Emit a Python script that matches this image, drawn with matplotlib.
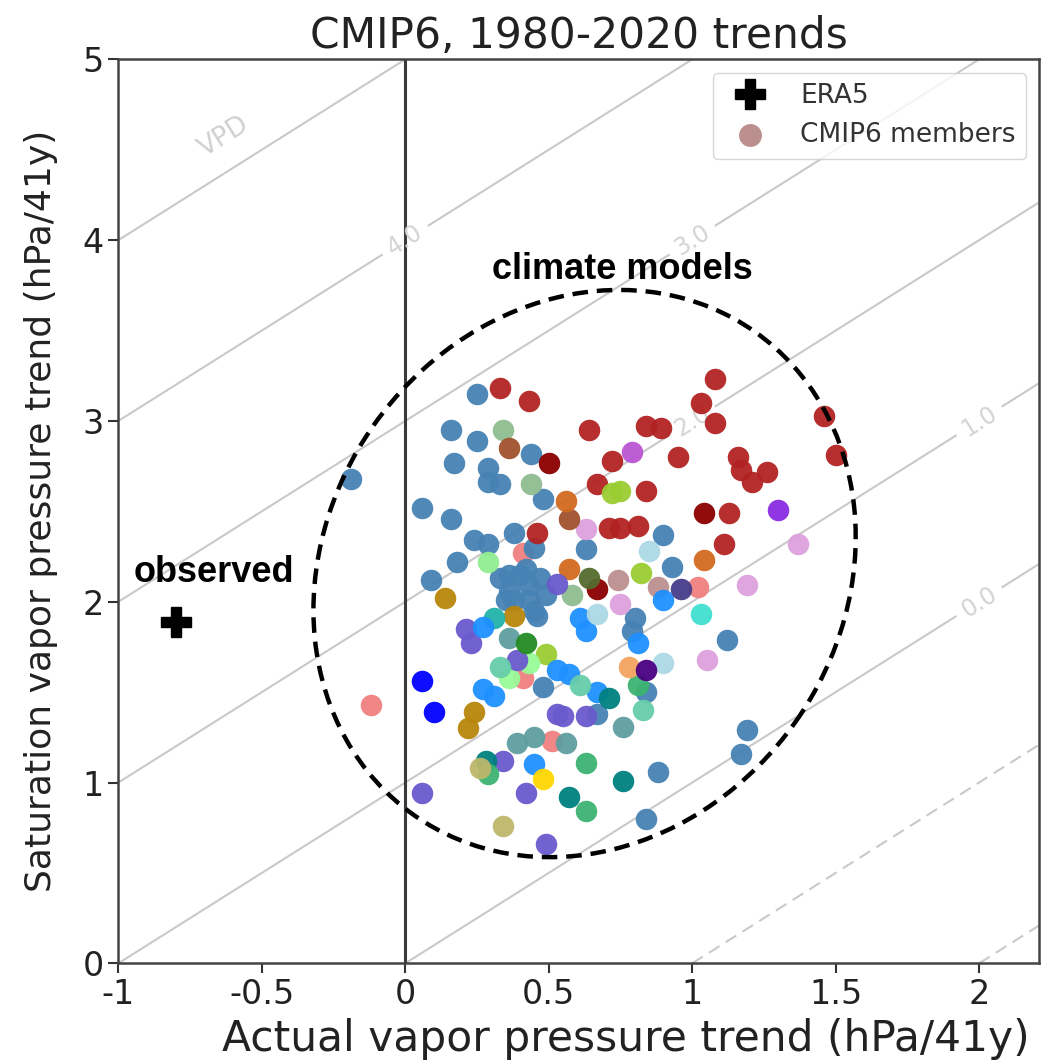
import matplotlib
import numpy as np

matplotlib.use("Agg")
import matplotlib.pyplot as plt
from matplotlib.patches import Ellipse
from matplotlib.transforms import Affine2D

# observed trend (ERA5)
era5_x = [-0.80]
era5_y = [1.89]

# CMIP6 members, grouped by the colour used for each model
lightcoral_x = [-0.12, 0.41, 0.51, 1.02, 0.41]
lightcoral_y = [1.43, 2.27, 1.23, 2.08, 1.58]
steelblue_x = [-0.19, 0.25, 0.16, 0.25, 0.44, 0.17, 0.29, 0.29, 0.33, 0.48, 0.06,
               0.16, 0.38, 0.24, 0.29, 0.45, 0.18, 0.09, 0.33, 0.36, 0.40, 0.43,
               0.47, 0.38, 0.43, 0.49, 0.35, 0.42, 0.45, 0.36, 0.46, 0.63, 0.90,
               0.93, 0.80, 0.79, 0.84, 0.67, 0.48, 1.12, 1.19, 1.17, 0.88, 0.84]
steelblue_y = [2.68, 3.15, 2.95, 2.89, 2.82, 2.77, 2.74, 2.66, 2.65, 2.57, 2.52,
               2.46, 2.38, 2.34, 2.32, 2.30, 2.22, 2.12, 2.13, 2.06, 2.15, 2.09,
               2.13, 2.01, 2.01, 2.04, 2.01, 2.18, 1.95, 2.15, 1.92, 2.29, 2.37,
               2.19, 1.91, 1.84, 1.50, 1.38, 1.53, 1.79, 1.29, 1.16, 1.06, 0.80]
firebrick_x = [0.33, 0.43, 0.46, 0.64, 0.72, 0.67, 0.71, 0.75, 0.81, 0.84, 0.89, 0.95,
               0.84, 1.08, 1.03, 1.08, 1.46, 1.50, 1.16, 1.17, 1.21, 1.26, 1.13, 1.11]
firebrick_y = [3.18, 3.11, 2.38, 2.95, 2.78, 2.65, 2.41, 2.41, 2.42, 2.97, 2.96, 2.80,
               2.61, 3.23, 3.10, 2.99, 3.03, 2.81, 2.80, 2.73, 2.66, 2.72, 2.49, 2.32]
darkred_x = [0.50, 1.04, 0.67]
darkred_y = [2.77, 2.49, 2.07]
orchid_x = [0.79]
orchid_y = [2.83]
blueviolet_x = [1.30]
blueviolet_y = [2.51]
plum_x = [0.63, 1.37, 1.19, 0.75, 1.05]
plum_y = [2.40, 2.32, 2.09, 1.99, 1.68]
yellowgreen_x = [0.72, 0.75, 0.82, 0.49]
yellowgreen_y = [2.60, 2.61, 2.16, 1.71]
palegreen_x = [0.36, 0.43]
palegreen_y = [1.58, 1.66]
seagreen_x = [0.34, 0.44, 0.58]
seagreen_y = [2.95, 2.65, 2.04]
sienna_x = [0.36, 0.57]
sienna_y = [2.85, 2.46]
chocolate_x = [0.56, 1.04, 0.57]
chocolate_y = [2.56, 2.23, 2.18]
goldenrod_x = [0.14, 0.38, 0.24, 0.22]
goldenrod_y = [2.02, 1.92, 1.39, 1.30]
lightgreen_x = [0.29]
lightgreen_y = [2.22]
slateblue_x = [0.53, 0.21, 0.23, 0.39, 0.53, 0.55, 0.63, 0.34, 0.06, 0.42, 0.49]
slateblue_y = [2.10, 1.85, 1.77, 1.68, 1.38, 1.37, 1.37, 1.12, 0.94, 0.94, 0.66]
olive_x = [0.64]
olive_y = [2.13]
rosybrown_x = [0.74, 0.88]
rosybrown_y = [2.12, 2.08]
lightseagreen_x = [0.31]
lightseagreen_y = [1.91]
dodgerblue_x = [0.61, 0.27, 0.53, 0.27, 0.31, 0.45, 0.90, 0.81, 0.63, 0.57, 0.67]
dodgerblue_y = [1.91, 1.86, 1.62, 1.52, 1.48, 1.10, 2.01, 1.77, 1.84, 1.60, 1.50]
lightblue_x = [0.67, 0.85, 0.90]
lightblue_y = [1.93, 2.28, 1.66]
cadetblue_x = [0.36, 0.39, 0.45, 0.56, 0.76]
cadetblue_y = [1.80, 1.22, 1.25, 1.22, 1.31]
forestgreen_x = [0.42]
forestgreen_y = [1.77]
aquamarine_x = [0.33, 0.61, 0.83]
aquamarine_y = [1.64, 1.54, 1.40]
blue_x = [0.06, 0.10]
blue_y = [1.56, 1.39]
teal_x = [0.28, 0.57, 0.76, 0.71]
teal_y = [1.12, 0.92, 1.01, 1.47]
medseagreen_x = [0.29, 0.63, 0.63, 0.81]
medseagreen_y = [1.05, 0.84, 1.11, 1.54]
darkkhaki_x = [0.34, 0.26]
darkkhaki_y = [0.76, 1.08]
gold_x = [0.48]
gold_y = [1.02]
darkslateblue_x = [0.96]
darkslateblue_y = [2.07]
turquoise_x = [1.03]
turquoise_y = [1.93]
sandybrown_x = [0.78]
sandybrown_y = [1.64]
indigo_x = [0.84]
indigo_y = [1.62]

members = [
    ("lightcoral", lightcoral_x, lightcoral_y),
    ("steelblue", steelblue_x, steelblue_y),
    ("firebrick", firebrick_x, firebrick_y),
    ("darkred", darkred_x, darkred_y),
    ("mediumorchid", orchid_x, orchid_y),
    ("blueviolet", blueviolet_x, blueviolet_y),
    ("plum", plum_x, plum_y),
    ("yellowgreen", yellowgreen_x, yellowgreen_y),
    ("palegreen", palegreen_x, palegreen_y),
    ("darkseagreen", seagreen_x, seagreen_y),
    ("sienna", sienna_x, sienna_y),
    ("chocolate", chocolate_x, chocolate_y),
    ("darkgoldenrod", goldenrod_x, goldenrod_y),
    ("lightgreen", lightgreen_x, lightgreen_y),
    ("slateblue", slateblue_x, slateblue_y),
    ("darkolivegreen", olive_x, olive_y),
    ("rosybrown", rosybrown_x, rosybrown_y),
    ("lightseagreen", lightseagreen_x, lightseagreen_y),
    ("dodgerblue", dodgerblue_x, dodgerblue_y),
    ("lightblue", lightblue_x, lightblue_y),
    ("cadetblue", cadetblue_x, cadetblue_y),
    ("forestgreen", forestgreen_x, forestgreen_y),
    ("mediumaquamarine", aquamarine_x, aquamarine_y),
    ("blue", blue_x, blue_y),
    ("teal", teal_x, teal_y),
    ("mediumseagreen", medseagreen_x, medseagreen_y),
    ("darkkhaki", darkkhaki_x, darkkhaki_y),
    ("gold", gold_x, gold_y),
    ("darkslateblue", darkslateblue_x, darkslateblue_y),
    ("turquoise", turquoise_x, turquoise_y),
    ("sandybrown", sandybrown_x, sandybrown_y),
    ("indigo", indigo_x, indigo_y),
]

vpd_levels = [-2, -1, 0, 1, 2, 3, 4, 5]
# where the isolines carry a label
vpd_label_at = [(2.0, 2.0), (2.0, 3.0), (1.0, 3.0), (1.0, 4.0), (0.0, 4.0)]

x_ticks = [-1, -0.5, 0, 0.5, 1, 1.5, 2]
x_tick_labels = ["-1", "-0.5", "0", "0.5", "1", "1.5", "2"]
y_ticks = [0, 1, 2, 3, 4, 5]

fig = plt.figure(figsize=(10.51, 10.64), dpi=100)
ax = fig.add_axes([0.1126, 0.0946, 0.8763, 0.8496])
ax.set_xlim(-1, 2.21)
ax.set_ylim(0, 5)

# VPD isolines: VPD = saturation - actual
gx, gy = np.meshgrid(np.linspace(-1, 2.21, 300), np.linspace(0, 5, 300))
styles = [(0, (6, 3.5)) if lv < 0 else "solid" for lv in vpd_levels]
cs = ax.contour(gx, gy, gy - gx, levels=vpd_levels, colors="#c9c9c9",
                linewidths=1.5, linestyles=styles, zorder=0)
ax.clabel(cs, fmt="%.1f", fontsize=17, colors="#d4d4d4",
          inline=True, inline_spacing=8, manual=vpd_label_at)
ax.text(-0.63, 4.57, "VPD", rotation=32, color="#d0d0d0", fontsize=19,
        ha="center", va="center")

ax.axvline(0, color="#3a3a3a", linewidth=2.2, zorder=1)

for color, xs, ys in members:
    ax.scatter(xs, ys, s=240, color=color, alpha=0.95, linewidths=0, zorder=3)

ax.plot(era5_x, era5_y, "P", color="black", markersize=21, zorder=6, label="ERA5")
ax.scatter([], [], s=240, color="rosybrown", label="CMIP6 members")

# hand-drawn style highlight of the model spread
ring = Ellipse((0, 0), width=2 * 296, height=2 * 258, angle=54.8, fill=False,
               edgecolor="black", linewidth=3.2, linestyle=(0, (3.5, 2)),
               transform=Affine2D().scale(1 / 287, 1 / 181).translate(0.625, 2.156) + ax.transData,
               zorder=5)
ax.add_patch(ring)

ax.text(-0.667, 2.16, "observed", fontsize=26, fontweight="bold",
        family="Liberation Sans", ha="center", va="center")
ax.text(0.758, 3.84, "climate models", fontsize=26, fontweight="bold",
        family="Liberation Sans", ha="center", va="center")

ax.set_xticks(x_ticks)
ax.set_xticklabels(x_tick_labels)
ax.set_yticks(y_ticks)
ax.tick_params(labelsize=24, length=7, width=1.5, colors="#333333", labelcolor="#222222")
for sp in ax.spines.values():
    sp.set_color("#444444")
    sp.set_linewidth(1.8)

ax.set_title("CMIP6, 1980-2020 trends", fontsize=30.5, color="#222222", pad=8)
ax.set_xlabel("Actual vapor pressure trend (hPa/41y)", fontsize=30.5, color="#222222")
ax.set_ylabel("Saturation vapor pressure trend (hPa/41y)", fontsize=26, color="#222222")
ax.xaxis.set_label_coords(0.551, -0.061)
ax.yaxis.set_label_coords(-0.066, 0.5)

ax.legend(loc="upper right", fontsize=19, scatterpoints=1, borderaxespad=0.5,
          handletextpad=0.9, labelcolor="#333333")

fig.savefig("out.png", dpi=100)
plt.close(fig)
